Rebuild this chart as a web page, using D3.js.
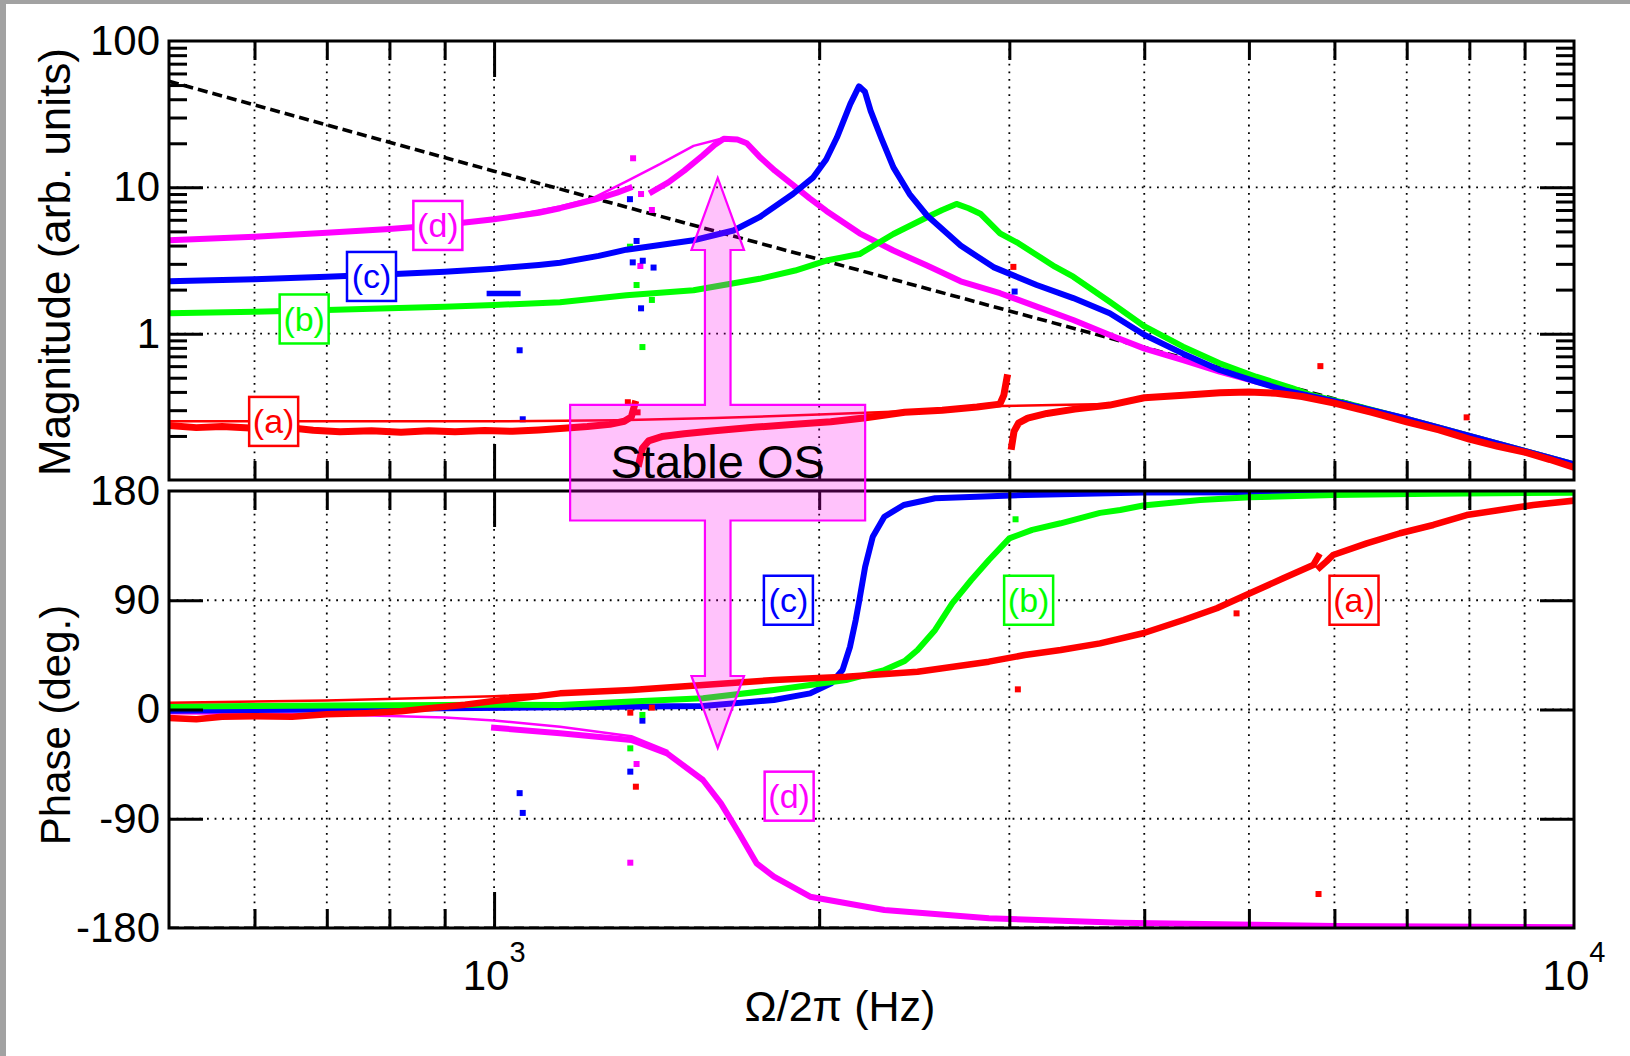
<!DOCTYPE html>
<html><head><meta charset="utf-8">
<script src="https://cdn.jsdelivr.net/npm/d3@7"></script>
<style>
html,body{margin:0;padding:0;background:#fff;}
svg{display:block;}
</style></head><body>
<svg id="chart" width="1630" height="1056"></svg>
<script>
// ---------- axis ticks ----------
const freqMinorTicks = [600,700,800,900,2000,3000,4000,5000,6000,7000,8000,9000];
const freqMajorTicks = [1000];
const freqLabelExponents = [3,4];
const magTickLabels = [100,10,1];
const magMajorTicks = [1,10];
const magMinorTicks = [0.2,0.3,0.4,0.5,0.6,0.7,0.8,0.9,2,3,4,5,6,7,8,9,20,30,40,50,60,70,80,90];
const phaseTickLabels = [180,90,0,-90,-180];
const phaseGridTicks = [90,0,-90];

// ---------- magnitude data [Hz, arb. units] ----------
const dashedMag = [[500,53],[1000,12.9],[2000,3.22],[3000,1.43],[5000,0.516],[7000,0.263],[10000,0.129]];

const magA = [[500,0.236],[530,0.228],[560,0.232],[600,0.226],[640,0.229],[680,0.219],[720,0.214],[770,0.217],[820,0.212],[870,0.217],[920,0.214],[980,0.218],[1040,0.215],[1100,0.22],[1160,0.226],[1220,0.232],[1280,0.24],[1320,0.252],[1340,0.27],[1350,0.33],null,
 [1362,0.13],[1372,0.165],[1390,0.185],[1430,0.198],[1500,0.207],[1600,0.217],[1750,0.23],[1900,0.24],[2050,0.25],[2200,0.265],[2400,0.29],[2600,0.3],[2800,0.315],[2940,0.33],[2965,0.38],[2985,0.5],null,
 [3015,0.17],[3030,0.215],[3060,0.245],[3120,0.265],[3250,0.285],[3450,0.305],[3716,0.325],[4000,0.365],[4350,0.38],[4700,0.395],[5000,0.40],[5300,0.392],[5600,0.372],[6000,0.335],[6500,0.29],[7000,0.25],[7500,0.22],[8000,0.19],[8500,0.17],[9000,0.155],[9500,0.138],[10000,0.122]];
const magAModel = [[500,0.252],[1000,0.252],[1300,0.256],[1600,0.265],[2000,0.28],[2400,0.295],[2941,0.32],[3300,0.325],[3716,0.33],[4000,0.36]];
const magADots = [[1330,0.34],[1358,0.29],[3026,2.86],[5823,0.6],[7954,0.268]];

const magB = [[500,1.38],[600,1.41],[700,1.45],[800,1.49],[900,1.53],[1000,1.57],[1151,1.64],[1326,1.83],[1530,1.98],[1761,2.37],[1900,2.7],[2031,3.16],[2180,3.5],[2343,4.8],[2517,6.25],[2600,7.0],[2680,7.7],[2750,7.2],[2820,6.6],[2941,4.85],[3058,4.15],[3180,3.45],[3306,2.87],[3438,2.45],[3716,1.65],[4003,1.12],[4345,0.815],[4697,0.627],[5077,0.508],[5490,0.423],[5707,0.381],[6200,0.33],[7000,0.262],[8000,0.2],[9000,0.158],[10000,0.128]];
const magBDots = [[1336,3.93],[1355,2.15],[1372,0.81],[1400,1.7]];

const magC = [[500,2.28],[600,2.35],[700,2.45],[800,2.55],[900,2.65],[1000,2.78],[1100,2.95],[1151,3.05],[1250,3.4],[1326,3.75],[1430,4.05],[1530,4.35],[1666,5.07],[1761,6.25],[1891,9.0],[1975,11.7],[2030,15.5],[2077,21.9],[2137,37],[2177,49],[2205,45],[2232,33.3],[2282,21.9],[2343,13.7],[2425,9.0],[2517,6.42],[2704,4.0],[2900,2.85],[3180,2.15],[3438,1.75],[3716,1.38],[4003,0.98],[4345,0.73],[4697,0.565],[5077,0.47],[5400,0.41],[6000,0.345],[7000,0.262],[8000,0.2],[9000,0.158],[10000,0.128]];
const magCDash = [[990,1.88],[1052,1.88]];
const magCDots = [[1336,8.3],[1355,4.3],[1344,3.07],[1373,3.15],[1405,2.83],[1368,1.49],[1056,0.77],[1063,0.26],[3034,1.94]];

const magD = [[500,4.35],[600,4.6],[700,4.9],[800,5.2],[900,5.55],[1000,6.05],[1100,6.7],[1151,7.2],[1237,8.2],[1300,9.2],[1335,9.9],null,
 [1400,9.3],[1450,10.8],[1500,13.0],[1560,16.5],[1600,19.5],[1632,21.5],[1680,21.2],[1714,20.0],[1761,16.2],[1820,13.0],[1891,10.4],[1960,8.4],[2031,6.9],[2180,4.85],[2343,3.7],[2517,2.92],[2704,2.28],[2941,1.89],[3180,1.53],[3438,1.24],[3716,0.98],[4003,0.79],[4345,0.66],[4697,0.55],[5077,0.47],[5490,0.41],[6000,0.345],[7000,0.262],[8000,0.2],[9000,0.158],[10000,0.128]];
const magDModel = [[1000,6.1],[1151,7.4],[1237,8.5],[1326,11.0],[1424,14.4],[1530,19.2],[1632,21.7]];
const magDDots = [[1345,15.8],[1368,9.0],[1400,7.0],[1366,2.9]];

// ---------- phase data [Hz, deg] ----------
const phA = [[500,-7],[530,-8],[560,-6],[600,-5.5],[650,-6],[700,-4],[760,-3],[820,-1.5],[880,1.5],[940,4],[1000,7],[1075,10],[1151,13.3],[1340,16.1],[1561,20.2],[1816,24.3],[2118,27],[2467,31.1],[2872,39.4],[3100,44.9],[3347,49],[3640,54.5],[3990,62.8],[4349,73.7],[4669,83.4],[5011,95.7],[5380,108.1],[5735,119],[5795,126],null,
 [5815,117],[5900,122],[5983,127.3],[6427,136.9],[6900,145.2],[7408,152],[7954,160.2],[8538,164.3],[9168,168.5],[9986,172]];
const phAModel = [[500,5.5],[700,7.5],[1000,11],[1340,16.1]];
const phADots = [[1353,-63.6],[1337,-2.6],[1400,1.5],[3055,16.6],[5800,-152],[4870,79.2]];

const phB = [[500,2.5],[600,2.8],[700,3.2],[800,3.5],[900,3.7],[1000,3.9],[1151,3.7],[1340,6.5],[1561,9.2],[1816,16.1],[2118,24.3],[2298,32.5],[2400,40],[2467,49],[2561,65.5],[2656,87.5],[2766,106.7],[2872,123.2],[3000,141],[3150,148],[3347,153.4],[3640,162],[3800,164.3],[3990,168],[4507,172.5],[5011,174.8],[5983,176.7],[7408,177.8],[9986,178.6]];
const phBDots = [[1337,-32],[1372,-4.5],[3040,156.7]];

const phC = [[500,-1],[700,0],[900,1],[1151,1.8],[1561,2.9],[1816,7.8],[1962,13.3],[2052,21.6],[2102,32.5],[2136,51.7],[2162,73.7],[2179,90.2],[2206,117.6],[2242,142.4],[2298,158.8],[2395,168.5],[2561,174],[3100,176.7],[4000,178.8],[10000,179.4]];
const phCDots = [[1337,-51.2],[1372,-9.2],[1056,-68.9],[1063,-85.2]];

const phD = [[1000,-15],[1151,-19.6],[1340,-25.1],[1446,-36.1],[1561,-58.1],[1622,-77.3],[1686,-102],[1750,-126.7],[1816,-137.7],[1962,-154.2],[2298,-165.2],[2872,-172],[3800,-175.6],[6000,-178.3],[10000,-179.3]];
const phDModel = [[500,-3],[700,-4],[900,-6.5],[1000,-9],[1151,-14.2],[1340,-22],[1446,-34]];
const phDDots = [[1337,-126.2],[1355,-44.9]];

// ---------- annotations (data coordinates) ----------
const labelsMag = [["(d)",887,5.49,"#ff00ff"],["(c)",770,2.46,"#0000ff"],["(b)",667,1.26,"#00ff00"],["(a)",625,0.2514,"#ff0000"]];
const labelsPhase = [["(c)",1873,90,"#0000ff"],["(b)",3126,90,"#00ff00"],["(a)",6256,90,"#ff0000"],["(d)",1876,-71.4,"#ff00ff"]];
const osBox = {f0:1176, f1:2206, magTop:0.326, phBottom:155.7};
const osArrow = {f:1611, upTipMag:11.6, upBaseMag:3.73, downBasePh:27.6, downTipPh:-31.7};

// ---------- drawing ----------
const FONT = '"Liberation Sans", Arial, Helvetica, sans-serif';
const W = 1630, H = 1056;
const svg = d3.select("#chart");
svg.append("rect").attr("width",W).attr("height",H).attr("fill","#a2a2a2");
svg.append("rect").attr("x",6).attr("y",4).attr("width",W-6).attr("height",H-4).attr("fill","#fff");

const x = d3.scaleLog().domain([500,10000]).range([169,1574]);
const yM = d3.scaleLog().domain([0.1,100]).range([480,41]);
const yP = d3.scaleLinear().domain([-180,180]).range([928,491]);
const L = x.range()[0], R = x.range()[1];
const panels = [
  {y:yM, top:41, bottom:480, id:"clipM"},
  {y:yP, top:491, bottom:928, id:"clipP"}
];
const defs = svg.append("defs");
panels.forEach(p=>{
  defs.append("clipPath").attr("id",p.id).append("rect")
    .attr("x",L).attr("y",p.top).attr("width",R-L).attr("height",p.bottom-p.top);
});

// grids
const grid = svg.append("g").attr("stroke","#000").attr("stroke-width",1.8).attr("stroke-dasharray","1.8,5.8");
panels.forEach(p=>{
  freqMinorTicks.concat(freqMajorTicks).forEach(f=>{
    grid.append("line").attr("x1",x(f)).attr("x2",x(f)).attr("y1",p.top).attr("y2",p.bottom);
  });
});
magMajorTicks.forEach(v=>grid.append("line").attr("x1",L).attr("x2",R).attr("y1",yM(v)).attr("y2",yM(v)));
phaseGridTicks.forEach(v=>grid.append("line").attr("x1",L).attr("x2",R).attr("y1",yP(v)).attr("y2",yP(v)));

// curves
function drawLine(g, data, ys, color, width, dash){
  const line = d3.line().defined(d=>d!==null).x(d=>x(d[0])).y(d=>ys(d[1]));
  const p = g.append("path").datum(data).attr("d",line).attr("fill","none")
    .attr("stroke",color).attr("stroke-width",width)
    .attr("stroke-linejoin","round").attr("stroke-linecap","square");
  if(dash) p.attr("stroke-dasharray",dash).attr("stroke-linecap","butt");
}
function drawDots(g, data, ys, color){
  g.selectAll(null).data(data).enter().append("rect")
    .attr("x",d=>x(d[0])-3).attr("y",d=>ys(d[1])-3).attr("width",6).attr("height",6).attr("fill",color);
}
const gM = svg.append("g").attr("clip-path","url(#clipM)");
drawLine(gM, dashedMag, yM, "#000", 3.6, "10,5");
drawLine(gM, magDModel, yM, "#ff00ff", 2.5);
drawLine(gM, magD, yM, "#ff00ff", 6);
drawDots(gM, magDDots, yM, "#ff00ff");
drawLine(gM, magB, yM, "#00ff00", 6);
drawDots(gM, magBDots, yM, "#00ff00");
drawLine(gM, magC, yM, "#0000ff", 6);
drawLine(gM, magCDash, yM, "#0000ff", 5.5);
drawDots(gM, magCDots, yM, "#0000ff");
drawLine(gM, magAModel, yM, "#ff0000", 2.5);
drawLine(gM, magA, yM, "#ff0000", 7);
drawDots(gM, magADots, yM, "#ff0000");

const gP = svg.append("g").attr("clip-path","url(#clipP)");
drawLine(gP, [[500,-180],[10000,-180]], yP, "#000", 3, "10,5");
drawLine(gP, phDModel, yP, "#ff00ff", 2.5);
drawLine(gP, phD, yP, "#ff00ff", 6);
drawDots(gP, phDDots, yP, "#ff00ff");
drawLine(gP, phC, yP, "#0000ff", 6);
drawDots(gP, phCDots, yP, "#0000ff");
drawLine(gP, phB, yP, "#00ff00", 6);
drawDots(gP, phBDots, yP, "#00ff00");
drawLine(gP, phAModel, yP, "#ff0000", 2.5);
drawLine(gP, phA, yP, "#ff0000", 6.5);
drawDots(gP, phADots, yP, "#ff0000");

// ticks
function tickAxis(axis, tx, ty, sw){
  const g = svg.append("g").attr("transform",`translate(${tx},${ty})`).call(axis);
  g.select(".domain").remove();
  g.selectAll(".tick text").remove();
  g.selectAll(".tick line").attr("stroke","#000").attr("stroke-width",sw);
}
panels.forEach(p=>{
  tickAxis(d3.axisBottom(x).tickValues(freqMinorTicks).tickSize(-19).tickFormat(""),0,p.bottom,3);
  tickAxis(d3.axisBottom(x).tickValues(freqMajorTicks).tickSize(-36).tickFormat(""),0,p.bottom,3);
  tickAxis(d3.axisTop(x).tickValues(freqMinorTicks).tickSize(-19).tickFormat(""),0,p.top,3);
  tickAxis(d3.axisTop(x).tickValues(freqMajorTicks).tickSize(-36).tickFormat(""),0,p.top,3);
});
tickAxis(d3.axisLeft(yM).tickValues(magMinorTicks).tickSize(-18).tickFormat(""),L,0,3);
tickAxis(d3.axisLeft(yM).tickValues(magMajorTicks).tickSize(-34).tickFormat(""),L,0,3);
tickAxis(d3.axisRight(yM).tickValues(magMinorTicks).tickSize(-18).tickFormat(""),R,0,3);
tickAxis(d3.axisRight(yM).tickValues(magMajorTicks).tickSize(-34).tickFormat(""),R,0,3);
tickAxis(d3.axisLeft(yP).tickValues(phaseGridTicks).tickSize(-34).tickFormat(""),L,0,3);
tickAxis(d3.axisRight(yP).tickValues(phaseGridTicks).tickSize(-34).tickFormat(""),R,0,3);

// frames
panels.forEach(p=>{
  svg.append("rect").attr("x",L).attr("y",p.top).attr("width",R-L).attr("height",p.bottom-p.top)
    .attr("fill","none").attr("stroke","#000").attr("stroke-width",3);
});

// label boxes
function labelBox(lbl, f, v, color, ys){
  const cx = x(f), cy = ys(v);
  svg.append("rect").attr("x",cx-24.5).attr("y",cy-24.5).attr("width",49).attr("height",49)
    .attr("fill","#fff").attr("stroke",color).attr("stroke-width",2.5);
  svg.append("text").attr("x",cx).attr("y",cy+12).attr("text-anchor","middle")
    .attr("font-family",FONT).attr("font-size",34).attr("fill",color).text(lbl);
}
labelsMag.forEach(d=>labelBox(d[0],d[1],d[2],d[3],yM));
labelsPhase.forEach(d=>labelBox(d[0],d[1],d[2],d[3],yP));

// Stable OS annotation
(function(){
  const bx0 = x(osBox.f0), bx1 = x(osBox.f1), by0 = yM(osBox.magTop), by1 = yP(osBox.phBottom);
  const ax = x(osArrow.f), sh = 12.8, hh = 26.3;
  const upTip = yM(osArrow.upTipMag), upBase = yM(osArrow.upBaseMag);
  const dnBase = yP(osArrow.downBasePh), dnTip = yP(osArrow.downTipPh);
  const pts = [[bx0,by0],[ax-sh,by0],[ax-sh,upBase],[ax-hh,upBase],[ax,upTip],[ax+hh,upBase],[ax+sh,upBase],[ax+sh,by0],
    [bx1,by0],[bx1,by1],[ax+sh,by1],[ax+sh,dnBase],[ax+hh,dnBase],[ax,dnTip],[ax-hh,dnBase],[ax-sh,dnBase],[ax-sh,by1],[bx0,by1]];
  svg.append("path").attr("d","M"+pts.map(p=>p.join(",")).join("L")+"Z")
    .attr("fill","#ff00ee").attr("fill-opacity",0.24).attr("stroke","#ff00ff").attr("stroke-width",2.2);
  svg.append("text").attr("x",ax).attr("y",478).attr("text-anchor","middle")
    .attr("font-family",FONT).attr("font-size",47).attr("fill","#000").text("Stable OS");
})();

// tick labels
function labelAxis(axis, tx){
  const g = svg.append("g").attr("transform",`translate(${tx},0)`).call(axis);
  g.select(".domain").remove();
  g.selectAll(".tick line").remove();
  g.attr("font-size",42).attr("font-family",FONT);
  g.selectAll(".tick text").attr("fill","#000");
}
labelAxis(d3.axisLeft(yM).tickValues(magTickLabels).tickSize(0).tickPadding(9).tickFormat(d=>String(d)), L);
labelAxis(d3.axisLeft(yP).tickValues(phaseTickLabels).tickSize(0).tickPadding(9).tickFormat(d=>String(d)), L);

freqLabelExponents.forEach(e=>{
  const t = svg.append("text").attr("x",x(Math.pow(10,e))).attr("y",990).attr("text-anchor","middle")
    .attr("font-family",FONT).attr("font-size",42).attr("fill","#000");
  t.append("tspan").text("10");
  t.append("tspan").attr("dy",-28).attr("font-size",29).text(String(e));
});

// titles
svg.append("text").attr("x",840).attr("y",1021).attr("text-anchor","middle")
  .attr("font-family",FONT).attr("font-size",43).attr("fill","#000").text("Ω/2π (Hz)");
svg.append("text").attr("transform","translate(70,262) rotate(-90)").attr("text-anchor","middle")
  .attr("font-family",FONT).attr("font-size",44).attr("fill","#000").text("Magnitude (arb. units)");
svg.append("text").attr("transform","translate(70,725) rotate(-90)").attr("text-anchor","middle")
  .attr("font-family",FONT).attr("font-size",42).attr("fill","#000").text("Phase (deg.)");
</script>
</body></html>
